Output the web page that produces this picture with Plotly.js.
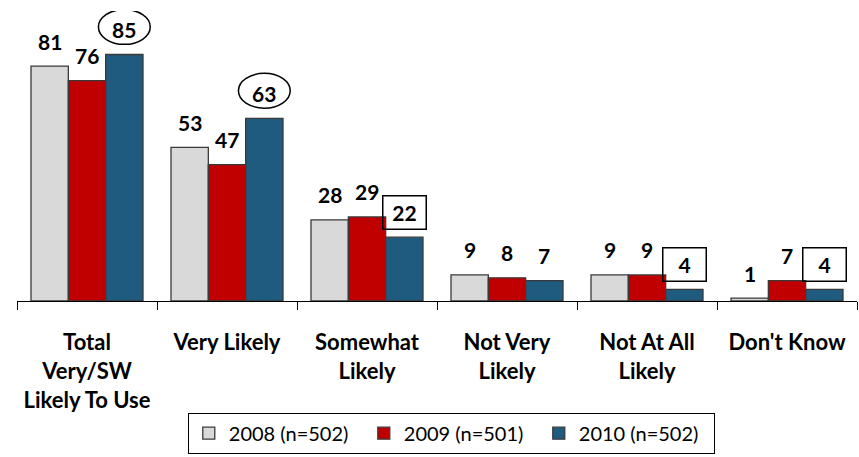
<!DOCTYPE html>
<html>
<head>
<meta charset="utf-8">
<script src="https://cdn.plot.ly/plotly-3.0.1.min.js"></script>
<style>html,body{margin:0;padding:0;background:#fff;}#chart{width:859px;height:457px;}</style>
</head>
<body>
<div id="chart"></div>
<script>
const categories = ["Total<br>Very/SW<br>Likely To Use", "Very Likely", "Somewhat<br>Likely", "Not Very<br>Likely", "Not At All<br>Likely", "Don't Know"];
const seriesNames = ["2008 (n=502)", "2009 (n=501)", "2010 (n=502)"];
const values2008 = [81, 53, 28, 9, 9, 1];
const values2009 = [76, 47, 29, 8, 9, 7];
const values2010 = [85, 63, 22, 7, 4, 4];
const colors = ["#D9D9D9", "#C00000", "#1F5A7F"];
// emphasis on 2010 labels: "ellipse", "box" or none
const emphasis2010 = ["ellipse", "ellipse", "box", "", "box", "box"];

const allValues = [values2008, values2009, values2010];
const FONT = "Lato, 'Open Sans', sans-serif";

const traces = allValues.map((vals, s) => ({
  type: "bar",
  name: seriesNames[s],
  x: categories,
  y: vals,
  marker: {color: colors[s], line: {color: "#3a3a3a", width: 1.3}},
  hoverinfo: "none"
}));

const bargap = 0.2;
const barW = (1 - bargap) / 3; // in category units

const annotations = [];
const shapes = [];
allValues.forEach((vals, s) => {
  vals.forEach((v, i) => {
    const off = (s - 1) * barW;
    const boxed = s === 2 && emphasis2010[i] === "box";
    const ann = {
      x: i + off, xref: "x", y: v, yref: "y",
      text: String(v), showarrow: false,
      xanchor: "center", yanchor: "middle", yshift: 25,
      font: {family: FONT, size: 21, color: "#000", weight: "bold"}
    };
    if (boxed) {
      ann.bordercolor = "#000"; ann.borderwidth = 1.5;
      ann.width = 38; ann.height = 28; ann.borderpad = 2;
      ann.bgcolor = "rgba(255,255,255,0)";
    }
    annotations.push(ann);
    if (s === 2 && emphasis2010[i] === "ellipse") {
      shapes.push({
        type: "circle", xref: "x", yref: "y",
        x0: i + off - 0.185, x1: i + off + 0.185,
        y0: v + 3.5, y1: v + 15.5,
        line: {color: "#000", width: 1.5}
      });
    }
  });
});

const layout = {
  width: 859, height: 457,
  margin: {l: 17, r: 2, t: 11, b: 156},
  paper_bgcolor: "#fff", plot_bgcolor: "#fff",
  barmode: "group", bargap: bargap, bargroupgap: 0,
  showlegend: true,
  legend: {
    orientation: "h", x: 0.517, xanchor: "center", y: -0.385, yanchor: "top",
    bordercolor: "#000", borderwidth: 1, bgcolor: "#fff",
    font: {family: FONT, size: 20, color: "#000"},
    itemwidth: 30,
    entrywidth: 130, entrywidthmode: "pixels", traceorder: "normal"
  },
  xaxis: {
    type: "category", showline: true, linecolor: "#000", linewidth: 1,
    ticks: "outside", tickson: "boundaries", ticklen: 8, tickcolor: "#000", tickwidth: 1,
    ticklabelstandoff: 22,
    tickfont: {family: FONT, size: 22, color: "#000", weight: "bold"},
    showgrid: false, zeroline: false, fixedrange: true
  },
  yaxis: {
    range: [0, 100], visible: false, showgrid: false, zeroline: false, fixedrange: true
  },
  annotations: annotations,
  shapes: shapes,
  font: {family: FONT}
};

Plotly.newPlot("chart", traces, layout, {displayModeBar: false, staticPlot: true});
</script>
</body>
</html>
